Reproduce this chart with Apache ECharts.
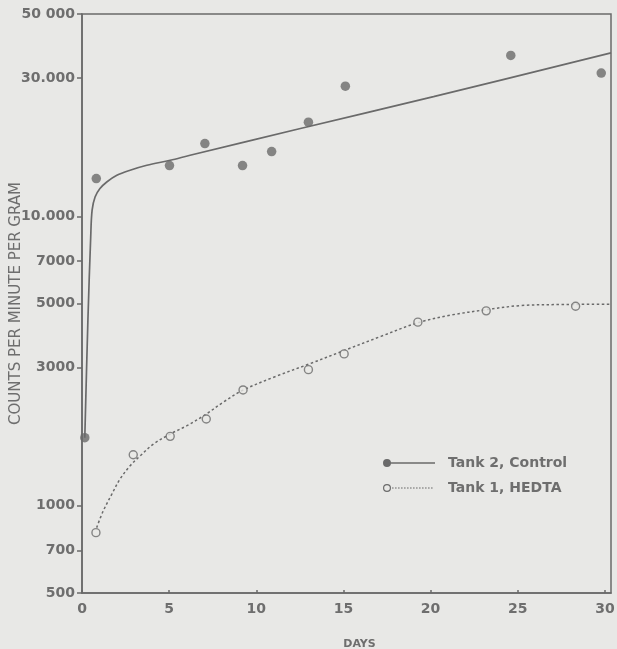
<!DOCTYPE html>
<html>
<head>
<meta charset="utf-8">
<script src="https://cdn.jsdelivr.net/npm/echarts@6/dist/echarts.min.js"></script>
<style>
html,body{margin:0;padding:0;background:#e8e8e6;}
#chart{width:617px;height:649px;}
</style>
</head>
<body>
<div id="chart"></div>
<script>
// ---- data ----
var xTicks = [0, 5, 10, 15, 20, 25, 30];
var xMax = 30.35; // frame extends a little beyond day 30
var yTickValues = [500, 700, 1000, 3000, 5000, 7000, 10000, 30000, 50000];
var yTickLabels = ['500', '700', '1000', '3000', '5000', '7000', '10.000', '30.000', '50 000'];

var controlName = 'Tank 2, Control';
var hedtaName = 'Tank 1, HEDTA';

// measured points
var controlDays = [0.16, 0.82, 5.02, 7.05, 9.21, 10.88, 12.99, 15.11, 24.6, 29.79];
var controlValues = [1720, 13500, 14980, 17840, 14980, 16740, 21150, 28170, 35970, 31250];

var hedtaDays = [0.8, 2.94, 5.06, 7.13, 9.24, 12.99, 15.04, 19.27, 23.19, 28.32];
var hedtaValues = [808, 1501, 1738, 1995, 2514, 2955, 3349, 4310, 4717, 4893];

// fitted curves (as drawn)
var controlFitDays = [0.16, 0.34, 0.5, 0.58, 0.75, 1.03, 1.42, 2.0, 2.76, 3.72, 5.06, 6.2, 12.53, 20.17, 30.35];
var controlFitValues = [1720, 4400, 8500, 10500, 11660, 12470, 13140, 13860, 14430, 15010, 15620, 16260, 20110, 25920, 36700];

var hedtaFitDays = [0.84, 1.22, 1.71, 2.18, 2.76, 3.34, 4.1, 5.06, 6.02, 7.1, 8.1, 9.24, 11.12, 13.03, 15.04, 17.15, 19.27, 21.18, 23.19, 25.2, 27.72, 30.35];
var hedtaFitValues = [841, 961, 1097, 1237, 1375, 1489, 1635, 1770, 1892, 2070, 2280, 2510, 2800, 3090, 3440, 3850, 4290, 4560, 4760, 4920, 4960, 4970];

function pairs(xs, ys) { return xs.map(function (x, i) { return [x, ys[i]]; }); }

var INK = '#6a6a6a';
var TXT = '#6e6e6e';
var BG = '#e8e8e6';

// legend icons: marker at left + line sample
var ctrlIcon = 'path://M0,4 A4,4 0 1,1 8,4 A4,4 0 1,1 0,4 Z M6,3.3 L52,3.3 L52,4.7 L6,4.7 Z';
var hedtaIconParts = ['M0,4 A4,4 0 1,1 8,4 A4,4 0 1,1 0,4 Z M1.2,4 A2.8,2.8 0 1,0 6.8,4 A2.8,2.8 0 1,0 1.2,4 Z'];
for (var d = 9; d <= 50; d += 3) { hedtaIconParts.push('M' + d + ',3.4 L' + (d + 1.6) + ',3.4 L' + (d + 1.6) + ',4.6 L' + d + ',4.6 Z'); }
hedtaIconParts.push('M51.9,3.99 L52,3.99 L52,4.01 L51.9,4.01 Z');
var hedtaIcon = 'path://' + hedtaIconParts.join(' ');

var chart = echarts.init(document.getElementById('chart'), null, {renderer: 'canvas'});
chart.setOption({
  backgroundColor: BG,
  animation: false,
  grid: {
    left: 82, right: 6, top: 14, bottom: 56,
    show: true, borderColor: INK, borderWidth: 1.5, backgroundColor: 'transparent',
    containLabel: false, outerBoundsMode: 'none'
  },
  legend: {
    orient: 'vertical',
    left: 378, top: 451,
    itemWidth: 52, itemHeight: 8, itemGap: 11,
    textStyle: {fontFamily: 'DejaVu Sans', fontWeight: 'bold', fontSize: 14, color: TXT, padding: [0, 0, 0, 8]},
    data: [
      {name: controlName, icon: ctrlIcon, itemStyle: {color: INK, borderWidth: 0}},
      {name: hedtaName, icon: hedtaIcon, itemStyle: {color: INK, borderWidth: 0}}
    ],
    selectedMode: false
  },
  xAxis: {
    type: 'value', min: 0, max: xMax,
    name: 'DAYS', nameLocation: 'middle', nameGap: 46, nameMoveOverlap: false,
    nameTextStyle: {fontFamily: 'DejaVu Sans', fontWeight: 'bold', fontSize: 11, color: TXT, padding: [0, 0, 0, 26]},
    axisLine: {lineStyle: {color: INK, width: 1.5}},
    axisTick: {inside: true, length: 3, lineStyle: {color: INK, width: 1.5}, customValues: xTicks},
    axisLabel: {fontFamily: 'DejaVu Sans', fontWeight: 'bold', fontSize: 14, color: TXT, margin: 9, customValues: xTicks},
    splitLine: {show: false}
  },
  yAxis: {
    type: 'log', logBase: 10, min: 500, max: 50000,
    name: 'COUNTS PER MINUTE PER GRAM', nameLocation: 'middle', nameGap: 58, nameMoveOverlap: false,
    nameTextStyle: {fontFamily: 'DejaVu Sans', fontSize: 15, color: TXT},
    axisLine: {lineStyle: {color: INK, width: 1.5}},
    axisTick: {inside: false, length: 5, lineStyle: {color: INK, width: 1.5}, customValues: yTickValues},
    axisLabel: {
      fontFamily: 'DejaVu Sans', fontWeight: 'bold', fontSize: 14, color: TXT, margin: 7,
      customValues: yTickValues,
      formatter: function (v) {
        for (var i = 0; i < yTickValues.length; i++) {
          if (Math.abs(yTickValues[i] - v) / yTickValues[i] < 1e-6) return yTickLabels[i];
        }
        return '';
      }
    },
    splitLine: {show: false},
    minorTick: {show: false}
  },
  series: [
    {
      name: controlName, type: 'line', data: pairs(controlFitDays, controlFitValues),
      smooth: 0.35, showSymbol: false, symbol: 'none',
      lineStyle: {color: INK, width: 1.7}, itemStyle: {color: INK}, z: 2, silent: true
    },
    {
      name: controlName, type: 'scatter', data: pairs(controlDays, controlValues),
      symbol: 'circle', symbolSize: 9.5, itemStyle: {color: INK}, z: 3
    },
    {
      name: hedtaName, type: 'line', data: pairs(hedtaFitDays, hedtaFitValues),
      smooth: 0.35, showSymbol: false, symbol: 'none',
      lineStyle: {color: INK, width: 1.5, type: [2.5, 2.5]}, itemStyle: {color: INK}, z: 2, silent: true
    },
    {
      name: hedtaName, type: 'scatter', data: pairs(hedtaDays, hedtaValues),
      symbol: 'circle', symbolSize: 8,
      itemStyle: {color: BG, borderColor: INK, borderWidth: 1.4}, z: 3
    }
  ]
});
</script>
</body>
</html>
